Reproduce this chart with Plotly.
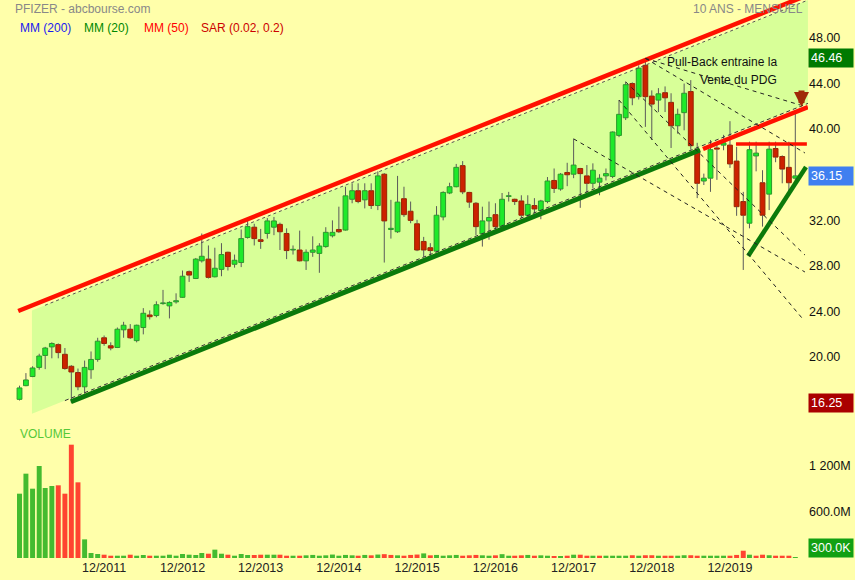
import pandas as pd
import plotly.graph_objects as go

# ---------------------------------------------------------------- data
months = pd.date_range("2010-11-01", periods=120, freq="MS")

opens = [16.55, 17.75, 18.55, 19.35, 20.4, 21.15, 21.35, 20.5, 19.45, 18.9,
         17.65, 19.15, 20.05, 21.95, 21.25, 21.1, 22.65, 22.7, 21.7, 22.85,
         23.95, 23.9, 24.95, 24.75, 25.1, 25.5, 27.75, 27.15, 28.7, 28.85,
         27.3, 27.95, 29.45, 28.4, 28.55, 30.75, 31.65, 30.55, 31.1, 31.65,
         31.9, 31.1, 29.65, 29.65, 28.7, 29.45, 29.35, 29.95, 30.9, 31.45,
         31.4, 34.1, 34.85, 34.05, 34.85, 33.55, 36.3, 31.45, 31.25, 34.15,
         33.05, 31.95, 30.4, 29.85, 29.55, 32.55, 34.65, 35.2, 37.05, 34.7,
         33.75, 31.05, 32.2, 32.75, 31.7, 34.35, 34.1, 33.95, 32.7, 33.55,
         33.1, 33.9, 35.75, 35.0, 36.45, 36.3, 36.8, 36.15, 35.5, 35.6,
         36.15, 36.1, 39.7, 41.25, 44.25, 43.1, 45.85, 43.15, 42.8, 43.45,
         42.6, 40.55, 41.7, 43.55, 38.45, 35.7, 35.95, 38.6, 38.85, 38.85,
         37.45, 33.9, 32.0, 37.9, 35.55, 34.55, 38.55, 37.85, 36.9, 35.95]

highs = [17.75, 18.85, 19.45, 20.55, 21.15, 21.55, 21.45, 21.05, 19.55, 19.25,
         19.95, 20.75, 21.95, 22.15, 21.55, 22.85, 23.35, 23.15, 23.1, 24.55,
         24.35, 25.15, 26.15, 25.15, 25.85, 27.85, 27.85, 28.95, 31.1, 30.05,
         29.85, 30.25, 29.5, 29.25, 31.45, 32.45, 31.95, 31.5, 32.45, 32.55,
         32.05, 31.55, 30.05, 31.35, 29.7, 30.85, 30.25, 31.65, 32.25, 33.45,
         35.2, 35.5, 35.5, 35.5, 35.5, 36.55, 36.4, 34.05, 36.15, 35.2,
         33.9, 32.3, 30.8, 30.25, 33.5, 34.8, 35.55, 37.2, 37.45, 34.75,
         33.85, 33.45, 33.9, 33.75, 34.65, 34.75, 34.15, 34.45, 34.45, 34.2,
         34.05, 36.05, 36.8, 36.4, 37.3, 39.4, 36.85, 37.1, 37.25, 36.3,
         36.8, 40.05, 42.8, 44.4, 44.35, 45.85, 46.46, 43.65, 43.85, 44.0,
         43.4, 42.05, 44.25, 44.55, 39.05, 36.35, 39.3, 39.0, 39.75, 40.95,
         38.7, 34.75, 39.15, 39.15, 36.65, 39.15, 39.15, 37.95, 39.15, 41.8]

lows = [16.45, 17.7, 18.5, 19.15, 19.2, 20.15, 20.15, 19.15, 16.25, 17.35,
        17.05, 18.35, 19.85, 21.25, 20.85, 21.05, 21.95, 21.85, 21.55, 22.25,
        23.55, 23.75, 24.85, 23.65, 24.95, 25.45, 26.85, 27.1, 28.55, 27.15,
        27.25, 27.35, 27.85, 28.1, 28.15, 30.65, 30.05, 29.75, 30.65, 30.95,
        29.65, 28.85, 29.25, 28.65, 27.9, 29.05, 27.65, 29.85, 30.75, 31.15,
        31.35, 33.75, 33.75, 33.3, 33.25, 33.15, 28.55, 30.65, 31.15, 32.55,
        32.0, 29.55, 29.05, 29.05, 29.45, 32.25, 34.55, 35.15, 34.55, 33.35,
        30.95, 29.95, 30.55, 31.45, 31.55, 33.9, 33.6, 32.45, 32.45, 32.85,
        32.35, 33.75, 34.65, 34.85, 35.25, 35.95, 33.35, 34.45, 35.05, 34.45,
        35.75, 35.95, 39.55, 41.05, 42.35, 42.85, 40.45, 39.3, 41.75, 41.75,
        38.6, 39.85, 40.15, 38.45, 34.2, 35.35, 34.75, 35.8, 38.4, 36.85,
        32.65, 27.9, 31.55, 36.55, 31.7, 33.15, 37.35, 35.5, 34.65, 35.65]

closes = [17.55, 18.25, 19.3, 20.35, 21.05, 21.45, 20.65, 19.25, 18.95, 17.65,
          19.35, 20.05, 21.65, 21.45, 21.05, 22.7, 23.05, 21.95, 23.05, 24.1,
          23.8, 24.85, 25.0, 25.05, 25.2, 27.35, 27.45, 28.85, 29.1, 27.25,
          28.05, 29.25, 28.2, 28.75, 30.65, 31.7, 30.65, 30.4, 32.2, 32.2,
          31.25, 29.6, 29.7, 28.7, 29.45, 29.65, 30.0, 31.2, 31.2, 31.25,
          34.4, 34.85, 33.9, 34.85, 33.55, 36.15, 32.2, 31.55, 33.85, 32.75,
          32.25, 29.65, 29.65, 29.6, 32.7, 34.7, 35.2, 36.9, 34.75, 33.85,
          31.7, 32.2, 32.5, 31.7, 34.1, 34.4, 33.9, 32.7, 33.65, 33.25,
          33.95, 35.7, 35.05, 36.3, 36.25, 37.1, 36.35, 35.5, 36.65, 35.95,
          36.35, 40.0, 41.55, 44.15, 43.0, 45.6, 43.1, 42.45, 43.35, 43.0,
          40.55, 41.55, 43.4, 38.8, 35.5, 35.95, 38.45, 38.5, 39.05, 37.2,
          33.45, 32.7, 38.45, 38.15, 32.7, 38.5, 37.8, 36.75, 35.55, 36.15]

# monthly volume, millions of shares
volumes_m = [839, 1100, 904, 1200, 913, 939, 948, 839, 1478, 987,
             243, 65, 52, 43, 30, 30, 30, 43, 30, 39,
             30, 30, 30, 43, 30, 52, 43, 39, 65, 56,
             109, 56, 43, 30, 52, 39, 39, 43, 43, 43,
             43, 30, 30, 30, 35, 40, 30, 35, 45, 30,
             40, 35, 30, 40, 35, 45, 50, 40, 35, 30,
             40, 45, 60, 35, 40, 30, 35, 40, 30, 35,
             40, 35, 30, 35, 50, 30, 30, 35, 40, 30,
             35, 30, 26, 26, 30, 43, 43, 30, 30, 30,
             30, 30, 30, 30, 36, 30, 36, 36, 30, 30,
             30, 30, 36, 36, 30, 30, 30, 30, 30, 30,
             40, 95, 43, 30, 43, 36, 30, 30, 30, 0.3]

tick_months = ["2011-12-01", "2012-12-01", "2013-12-01", "2014-12-01", "2015-12-01",
               "2016-12-01", "2017-12-01", "2018-12-01", "2019-12-01"]
tick_labels = ["12/2011", "12/2012", "12/2013", "12/2014", "12/2015",
               "12/2016", "12/2017", "12/2018", "12/2019"]

price_ticks = [20, 24, 28, 32, 40, 44, 48]
volume_ticks = [600, 1200]
volume_tick_labels = ["600.0M", "1 200M"]

# hand-drawn analysis: (date, price) end points
upper_channel = [("2010-10-26", 24.30), ("2020-11-29", 52.02)]
upper_channel_inner = [("2011-02-28", 24.80), ("2020-11-29", 51.57)]
lower_channel = [("2011-06-29", 16.34), ("2019-07-14", 38.42)]
broken_support = [("2019-07-28", 38.51), ("2020-11-29", 42.19)]
lower_channel_inner = [("2011-06-01", 16.44), ("2020-11-29", 42.51)]
channel_zone = [("2010-12-29", 24.34), ("2020-11-29", 51.57),
                ("2020-11-29", 42.51), ("2010-12-29", 15.28)]
resistance = [("2019-12-29", 38.95), ("2020-11-24", 38.95)]
rising_support = [("2020-02-24", 29.12), ("2020-11-20", 36.93)]
fan_lines = [
    [("2018-11-01", 46.46), ("2020-10-23", 42.37)],
    [("2018-11-01", 46.46), ("2020-11-15", 38.16)],
    [("2018-08-01", 44.40), ("2020-11-15", 29.21)],
    [("2017-12-01", 39.40), ("2020-11-15", 27.72)],
    [("2018-07-01", 42.80), ("2020-11-01", 23.69)],
]
arrow_point = ("2020-10-30", 42.2)

last_high = 46.46
last_close = 36.15
period_low = 16.25
last_volume = 0.3

# ---------------------------------------------------------------- styling
BG = "#FFFFAA"
ZONE = "#D8FF98"
UP_FILL, UP_EDGE = "#1EEA2A", "#2A9A2A"
DN_FILL, DN_EDGE = "#CC2200", "#992200"
WICK = "#5A5A5A"
VOL_UP, VOL_DN = "#44BB30", "#FF4430"
FONT = "Liberation Sans, Arial, sans-serif"

W, H = 855, 580
M_R, M_B = 47, 22
PLOT_W, PLOT_H = W - M_R, H - M_B
PX_PER_UNIT = 11.4
PRICE_TOP = 51.58
PRICE_BOTTOM_PX = 420
VOL_TOP_PX = 425
PX_PER_M = 46 / 600.0

price_range = [PRICE_TOP - PRICE_BOTTOM_PX / PX_PER_UNIT, PRICE_TOP]
price_domain = [(PLOT_H - PRICE_BOTTOM_PX) / PLOT_H, 1]
vol_domain = [0, (PLOT_H - VOL_TOP_PX) / PLOT_H]
vol_range = [0, (PLOT_H - VOL_TOP_PX) / PX_PER_M]

px_per_day = 6.52 / 30.44
first_px = 19.5
x_start = months[0] - pd.Timedelta(days=first_px / px_per_day)
x_end = months[0] + pd.Timedelta(days=(PLOT_W - first_px) / px_per_day)

month_ms = 30.44 * 86400000

fig = go.Figure()

# wicks (upper and lower parts, so they stay outside the bodies)
wx, wy = [], []
for d, o, h, l, c in zip(months, opens, highs, lows, closes):
    top, bot = max(o, c), min(o, c)
    wx += [d, d, None, d, d, None]
    wy += [h, top, None, bot, l, None]

# bodies
up_x, up_base, up_h = [], [], []
dn_x, dn_base, dn_h = [], [], []
for d, o, c in zip(months, opens, closes):
    body = max(abs(c - o), 0.06)
    if c >= o:
        up_x.append(d); up_base.append(o); up_h.append(body)
    else:
        dn_x.append(d); dn_base.append(c); dn_h.append(body)

fig.add_trace(go.Bar(x=up_x, y=up_h, base=up_base, width=0.74 * month_ms,
                     marker=dict(color=UP_FILL, line=dict(color=UP_EDGE, width=1)),
                     xaxis="x", yaxis="y", showlegend=False, hoverinfo="skip"))
fig.add_trace(go.Bar(x=dn_x, y=dn_h, base=dn_base, width=0.74 * month_ms,
                     marker=dict(color=DN_FILL, line=dict(color=DN_EDGE, width=1)),
                     xaxis="x", yaxis="y", showlegend=False, hoverinfo="skip"))

# volume, coloured against the previous close
vol_colors = [VOL_UP]
for prev, cur in zip(closes[:-1], closes[1:]):
    vol_colors.append(VOL_UP if cur >= prev else VOL_DN)
fig.add_trace(go.Bar(x=months, y=volumes_m, width=0.76 * month_ms,
                     marker=dict(color=vol_colors, line=dict(width=0)),
                     xaxis="x", yaxis="y2", showlegend=False, hoverinfo="skip"))

fig.add_trace(go.Scatter(x=wx, y=wy, mode="lines", line=dict(color=WICK, width=1),
                         showlegend=False, hoverinfo="skip"))


def seg(points, color, width, dash=None):
    xs = [p[0] for p in points]
    ys = [p[1] for p in points]
    fig.add_trace(go.Scatter(x=xs, y=ys, mode="lines",
                             line=dict(color=color, width=width, dash=dash),
                             showlegend=False, hoverinfo="skip"))


seg(upper_channel_inner, "#555555", 1, "3px,3px")
seg(lower_channel_inner, "#333333", 1, "4px,3px")
seg(upper_channel, "#FF1100", 4.5)
seg(lower_channel, "#0B7A0B", 5)
seg(broken_support, "#FF1100", 4.5)
seg(resistance, "#FF1100", 3.5)
seg(rising_support, "#0B7A0B", 4.5)
for line in fan_lines:
    seg(line, "#222222", 1, "4px,4px")

# channel zone
zone_path = "M " + " L ".join(f"{d},{p}" for d, p in channel_zone) + " Z"
shapes = [dict(type="path", path=zone_path, xref="x", yref="y",
               fillcolor=ZONE, line=dict(width=0), layer="below")]


def ptext(x_px, y_px, text, color, size=12, xanchor="left"):
    return dict(x=x_px / PLOT_W, y=1 - y_px / PLOT_H, xref="paper", yref="paper",
                text=text, showarrow=False, xanchor=xanchor, yanchor="middle",
                font=dict(family=FONT, size=size, color=color))


annotations = [
    ptext(13, 9, "PFIZER - abcbourse.com", "#888888"),
    ptext(805, 9, "10 ANS - MENSUEL", "#888888", xanchor="right"),
    ptext(18, 28, "MM (200)", "#1A1AF0"),
    ptext(82, 28, "MM (20)", "#008800"),
    ptext(142, 28, "MM (50)", "#FF0000"),
    ptext(199, 28, "SAR (0.02, 0.2)", "#CC0000"),
    ptext(18, 434, "VOLUME", "#55C838"),
    ptext(779, 62, "Pull-Back entraine la", "#111111", xanchor="right"),
    ptext(779, 80, "Vente du PDG", "#111111", xanchor="right"),
]


def value_box(value, text, bg, yref="y", yanchor="middle"):
    return dict(x=1, xref="paper", y=value, yref=yref, text=text, showarrow=False,
                xanchor="left", yanchor=yanchor, align="left", width=40,
                bgcolor=bg, borderpad=2,
                font=dict(family=FONT, size=12.5, color="white"))


annotations += [
    value_box(last_high, f"{last_high:.2f}", "#007A00"),
    value_box(last_close, f"{last_close:.2f}", "#3F7FF0"),
    value_box(period_low, f"{period_low:.2f}", "#AA0000"),
    value_box(last_volume, f"{last_volume * 1000:.1f}K", "#12A012", yref="y2", yanchor="bottom"),
]

annotations.append(dict(x=arrow_point[0], y=arrow_point[1], xref="x", yref="y",
                        ax=0, ay=-18, text="", showarrow=True, arrowhead=2,
                        arrowsize=0.5, arrowwidth=6, arrowcolor="#A02A08",
                        standoff=0))

fig.update_layout(
    width=W, height=H,
    margin=dict(l=0, r=M_R, t=0, b=M_B),
    paper_bgcolor=BG, plot_bgcolor=BG,
    barmode="overlay",
    shapes=shapes,
    annotations=annotations,
    font=dict(family=FONT, size=12, color="#111111"),
    xaxis=dict(type="date", range=[x_start, x_end], anchor="y2",
               tickvals=tick_months, ticktext=tick_labels,
               showgrid=False, zeroline=False, showline=False, ticks="",
               tickfont=dict(family=FONT, size=12.5, color="#222222")),
    yaxis=dict(domain=price_domain, range=price_range, side="right",
               tickvals=price_ticks, ticktext=[f"{v:.2f}" for v in price_ticks],
               showgrid=False, zeroline=False, showline=False, ticks="",
               ticklabelshift=-3,
               tickfont=dict(family=FONT, size=12.5, color="#111111")),
    yaxis2=dict(domain=vol_domain, range=vol_range, side="right", anchor="x",
                tickvals=volume_ticks, ticktext=volume_tick_labels,
                showgrid=False, zeroline=False, showline=False, ticks="",
                tickfont=dict(family=FONT, size=12.5, color="#111111")),
)

fig.write_html("out.html")
